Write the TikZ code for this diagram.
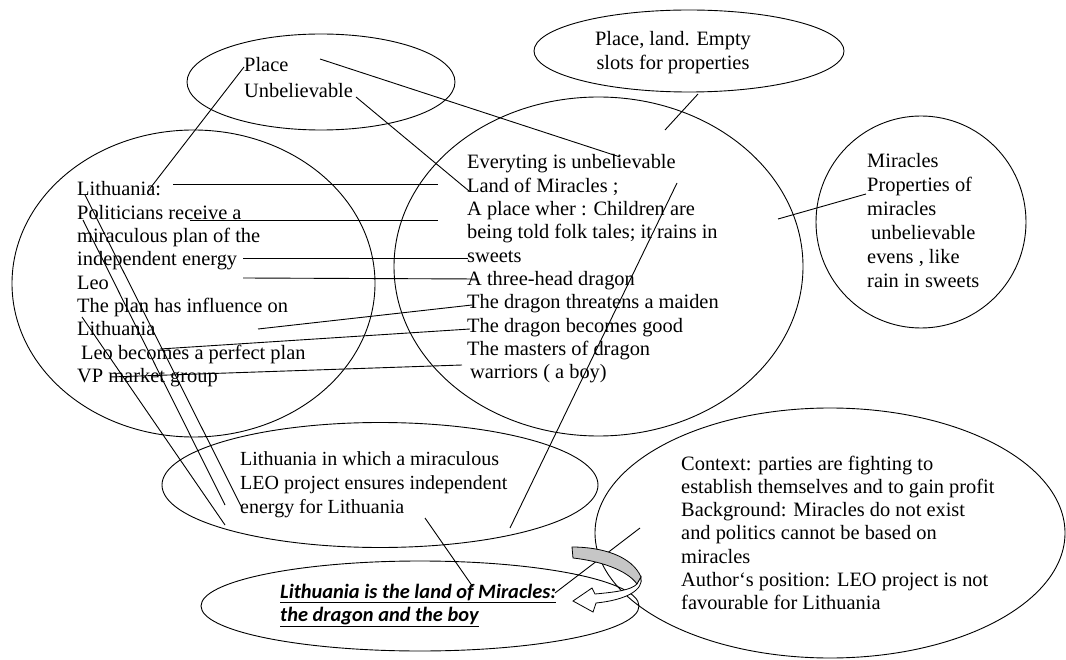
\documentclass[tikz,border=0pt]{standalone}
\usepackage{fontspec}
\setmainfont{Liberation Serif}
\newfontfamily\thesisfont{Carlito}
\usetikzlibrary{shapes.geometric}

% a block of left-aligned lines whose node base is the first baseline
\newcommand{\lineblock}[2]{\parbox[t]{#1}{\raggedright\fontsize{20.4}{23.3}\selectfont #2}}

\begin{document}
\begin{tikzpicture}[x=1pt,y=-1pt,
  bubble/.style={draw, ellipse, line width=0.9pt, inner sep=0pt},
  words/.style={anchor=base west, inner sep=0pt},
  link/.style={draw, line width=0.9pt}]

\useasboundingbox[fill=white] (0,0) rectangle (1066,660);

% ---- ellipses ----
\node[bubble, minimum width=268, minimum height=96] (placeE) at (321,82) {};
\node[bubble, minimum width=310, minimum height=82] (landE) at (689,51) {};
\node[bubble, minimum width=363, minimum height=307] (leftE) at (193.5,283.5) {};
\node[bubble, minimum width=409, minimum height=339] (midE) at (598.5,266.5) {};
\node[bubble, minimum width=210, minimum height=212] (mirE) at (921,222) {};
\node[bubble, minimum width=436, minimum height=125] (lithE) at (380,485) {};
\node[bubble, minimum width=438, minimum height=90] (thesisE) at (420,606) {};
\node[bubble, minimum width=470, minimum height=250] (ctxE) at (830,533) {};

% ---- texts ----
\node[words] (placeT) at (244,72) {\parbox[t]{150pt}{\raggedright\fontsize{20.4}{25.5}\selectfont Place\\Unbelievable}};
\node[anchor=base, inner sep=0pt] (landT) at (673,46) {\parbox[t]{220pt}{\centering\fontsize{20.4}{23.3}\selectfont Place, land. Empty\\slots for properties}};
\node[words] (leftT) at (77,196) {\lineblock{300pt}{Lithuania:\\Politicians receive a\\miraculous plan of the\\independent energy\\Leo\\The plan has influence on\\Lithuania\\\hspace*{4pt}Leo becomes a perfect plan\\VP market group}};
\node[words] (midT) at (467,169) {\lineblock{320pt}{Everyting is unbelievable\\Land of Miracles ;\\A place wher : Children are\\being told folk tales; it rains in\\sweets\\A three-head dragon\\The dragon threatens a maiden\\The dragon becomes good\\The masters of dragon\\\hspace*{3pt}warriors ( a boy)}};
\node[words] (mirT) at (867,168) {\parbox[t]{160pt}{\raggedright\fontsize{20.4}{24}\selectfont Miracles\\Properties of\\miracles\\\hspace*{4pt}unbelievable\\evens , like\\rain in sweets}};
\node[words] (lithT) at (240,465) {\parbox[t]{340pt}{\raggedright\fontsize{20}{24}\selectfont Lithuania in which a miraculous\\LEO project ensures independent\\energy for Lithuania}};
\node[words] (thesisT) at (280,598) {\parbox[t]{340pt}{\raggedright\fontsize{20.4}{23}\selectfont\thesisfont\bfseries\itshape \underline{Lithuania is the land of Miracles:}\\\underline{the dragon and the boy}}};
\node[words] (ctxT) at (681,470) {\lineblock{380pt}{Context: parties are fighting to\\establish themselves and to gain profit\\Background: Miracles do not exist\\and politics cannot be based on\\miracles\\Author‘s position: LEO project is not\\favourable for Lithuania}};

% ---- connector ends ----
\coordinate (a1) at (244,67);  \coordinate (a2) at (148,191);
\coordinate (b1) at (320,59);  \coordinate (b2) at (620,157);
\coordinate (c1) at (356,97);  \coordinate (c2) at (469,191);
\coordinate (d1) at (173,184); \coordinate (d2) at (438,184);
\coordinate (e1) at (190,220); \coordinate (e2) at (438,220);
\coordinate (f1) at (243,258); \coordinate (f2) at (468,258);
\coordinate (g1) at (243,278); \coordinate (g2) at (478,279);
\coordinate (h1) at (258,329); \coordinate (h2) at (472,305);
\coordinate (i1) at (160,349); \coordinate (i2) at (470,329);
\coordinate (j1) at (110,377); \coordinate (j2) at (462,365);
\coordinate (k1) at (85,195);  \coordinate (k2) at (242,508);
\coordinate (l1) at (83,220);  \coordinate (l2) at (225,505);
\coordinate (m1) at (82,317);  \coordinate (m2) at (225,525);
\coordinate (n1) at (698,94);  \coordinate (n2) at (665,130);
\coordinate (o1) at (866,194); \coordinate (o2) at (778,219);
\coordinate (p1) at (677,183); \coordinate (p2) at (510,528);
\coordinate (q1) at (425,518); \coordinate (q2) at (473,587);
\coordinate (r1) at (555,593); \coordinate (r2) at (640,528);

\foreach \u/\v in {a1/a2,b1/b2,c1/c2,d1/d2,e1/e2,f1/f2,g1/g2,h1/h2,i1/i2,j1/j2,
                   k1/k2,l1/l2,m1/m2,n1/n2,o1/o2,p1/p2,q1/q2,r1/r2}
  \path[link] (\u) -- (\v);

% ---- curved arrow ----
\path[draw, line width=0.8pt, fill=gray!45]
  (572,547) .. controls (602,547) and (632,556) .. (641,577)
  -- (637,584) .. controls (627,570) and (600,561) .. (573,558) -- cycle;
\path[draw, line width=0.8pt, fill=white]
  (641,577) .. controls (644,590) and (626,600) .. (596,603)
  -- (593,612) -- (573,601) -- (592,588) -- (595,594)
  .. controls (617,592) and (631,590) .. (637,584) -- cycle;

\end{tikzpicture}
\end{document}
